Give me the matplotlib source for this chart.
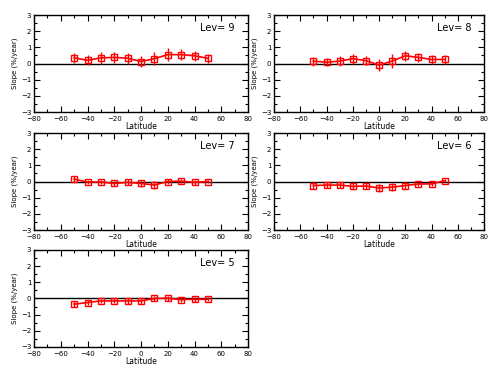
#!/usr/bin/env python3

import numpy as np
import matplotlib
matplotlib.use('Agg')
import matplotlib.pyplot as plt
from matplotlib.ticker import MultipleLocator

lats = [-50, -40, -30, -20, -10, 0, 10, 20, 30, 40, 50]

lev9 = [0.35, 0.20, 0.35, 0.38, 0.33, 0.12, 0.30, 0.55, 0.55, 0.48, 0.32]
lev9Err = [0.30, 0.30, 0.35, 0.35, 0.35, 0.35, 0.40, 0.38, 0.35, 0.30, 0.28]
lev8 = [0.15, 0.08, 0.15, 0.30, 0.18, -0.10, 0.15, 0.48, 0.38, 0.25, 0.25]
lev8Err = [0.28, 0.25, 0.30, 0.30, 0.30, 0.35, 0.45, 0.30, 0.28, 0.28, 0.25]
lev7 = [0.15, -0.03, -0.03, -0.12, -0.05, -0.12, -0.22, 0.00, 0.02, -0.05, 0.00]
lev7Err = [0.20, 0.15, 0.15, 0.18, 0.18, 0.22, 0.25, 0.15, 0.12, 0.15, 0.12]
lev6 = [-0.25, -0.22, -0.22, -0.30, -0.28, -0.40, -0.35, -0.25, -0.15, -0.15, 0.05]
lev6Err = [0.22, 0.18, 0.18, 0.20, 0.20, 0.22, 0.25, 0.20, 0.15, 0.15, 0.10]
lev5 = [-0.35, -0.25, -0.15, -0.15, -0.15, -0.15, 0.00, 0.02, -0.07, -0.05, -0.05]
lev5Err = [0.20, 0.15, 0.12, 0.15, 0.18, 0.20, 0.15, 0.15, 0.15, 0.15, 0.12]

levNames = ['Lev= 9', 'Lev= 8', 'Lev= 7', 'Lev= 6', 'Lev= 5']
levData = [lev9, lev8, lev7, lev6, lev5]
levErrs = [lev9Err, lev8Err, lev7Err, lev6Err, lev5Err]

# axes boxes in figure fractions (left, bottom, width, height)
boxes = [
    (0.0675, 0.698, 0.4246, 0.2615),
    (0.5437, 0.698, 0.4167, 0.2615),
    (0.0675, 0.380, 0.4246, 0.2615),
    (0.5437, 0.380, 0.4167, 0.2615),
    (0.0675, 0.0647, 0.4246, 0.2615),
]

fig = plt.figure(figsize=(5.04, 3.71), dpi=100)

for name, y, e, box in zip(levNames, levData, levErrs, boxes):
    ax = fig.add_axes(box)
    ax.axhline(0.0, color='black', lw=1.0, zorder=1)
    ax.errorbar(lats, y, yerr=e, color='red', ecolor='red', elinewidth=1.0,
                capsize=0, marker='s', markersize=4.5, markerfacecolor='none',
                markeredgecolor='red', markeredgewidth=1.0, lw=1.2, zorder=3)
    ax.set_xlim(-80, 80)
    ax.set_ylim(-3, 3)
    ax.xaxis.set_major_locator(MultipleLocator(20))
    ax.xaxis.set_minor_locator(MultipleLocator(10))
    ax.yaxis.set_major_locator(MultipleLocator(1))
    ax.yaxis.set_minor_locator(MultipleLocator(0.5))
    ax.tick_params(which='both', direction='in', top=True, right=True,
                   labelsize=5)
    ax.tick_params(axis='x', pad=3)
    ax.tick_params(axis='y', pad=2)
    ax.tick_params(which='major', length=4, width=0.8)
    ax.tick_params(which='minor', length=2, width=0.8)
    for sp in ax.spines.values():
        sp.set_linewidth(1.0)
    ax.set_xlabel('Latitude', fontsize=5.5, labelpad=0)
    ax.set_ylabel('Slope (%/year)', fontsize=5, labelpad=2)
    ax.text(44, 2.2, name, fontsize=7, ha='left', va='center')

plt.savefig('out.png', dpi=100)
